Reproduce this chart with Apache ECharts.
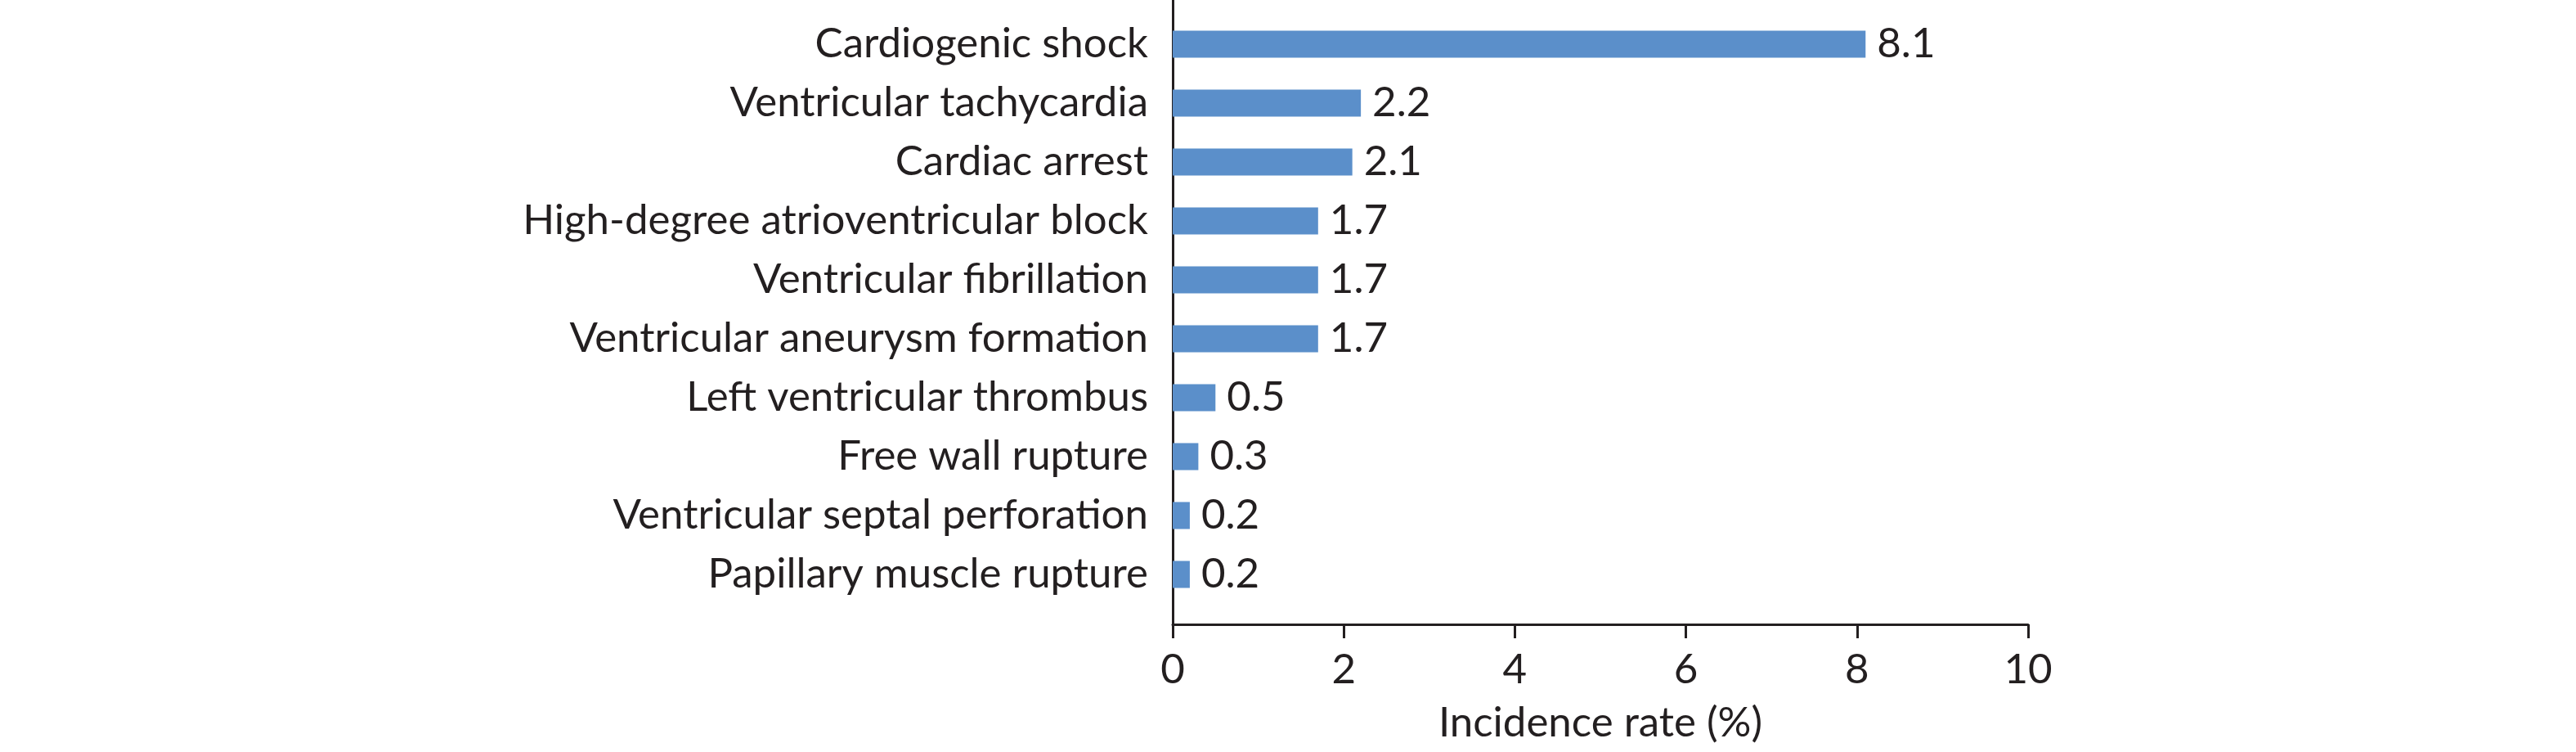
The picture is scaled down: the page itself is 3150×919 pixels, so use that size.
<!DOCTYPE html>
<html lang="en" style="height: 100%">

<head>
  <meta charset="utf-8" />
</head>

<body style="height: 100%; margin: 0; background: #ffffff">
  <div id="container" style="width: 3150px; height: 919px;"></div>

  <script type="text/javascript" src="https://cdn.jsdelivr.net/npm/echarts@6/dist/echarts.min.js"></script>

  <script type="text/javascript">
    // complications, top to bottom as in the figure
    var categories = [
      'Cardiogenic shock',
      'Ventricular tachycardia',
      'Cardiac arrest',
      'High-degree atrioventricular block',
      'Ventricular fibrillation',
      'Ventricular aneurysm formation',
      'Left ventricular thrombus',
      'Free wall rupture',
      'Ventricular septal perforation',
      'Papillary muscle rupture'
    ];
    // incidence rate (%)
    var rates = [8.1, 2.2, 2.1, 1.7, 1.7, 1.7, 0.5, 0.3, 0.2, 0.2];
    var xMin = 0;
    var xMax = 10;
    var xStep = 2;

    var textColor = '#231f20';
    var font = 'Lato';
    var fontSize = 51;

    var dom = document.getElementById('container');
    var myChart = echarts.init(dom, null, { renderer: 'canvas' });

    var option = {
      animation: false,
      backgroundColor: '#ffffff',
      // grid 0 holds the bars, grid 1 only draws the axis frame
      grid: [
        { left: 1434, width: 1046, top: 18, height: 720 },
        { left: 1434, width: 1046, top: 0, height: 763 }
      ],
      xAxis: [
        { gridIndex: 0, type: 'value', min: xMin, max: xMax, show: false },
        {
          gridIndex: 1,
          type: 'value',
          min: xMin,
          max: xMax,
          interval: xStep,
          axisLine: { show: true, lineStyle: { color: textColor, width: 3 } },
          axisTick: { show: true, length: 17, lineStyle: { color: textColor, width: 3 } },
          splitLine: { show: false },
          axisLabel: {
            fontFamily: font,
            fontSize: fontSize,
            color: textColor,
            margin: 56,
            verticalAlign: 'middle'
          },
          name: 'Incidence rate (%)',
          nameLocation: 'middle',
          nameGap: 121,
          nameTextStyle: {
            fontFamily: font,
            fontSize: fontSize,
            color: textColor,
            verticalAlign: 'middle'
          }
        }
      ],
      yAxis: [
        {
          gridIndex: 0,
          type: 'category',
          data: categories,
          inverse: true,
          axisLine: { show: false },
          axisTick: { show: false },
          axisLabel: {
            fontFamily: font,
            fontSize: fontSize,
            color: textColor,
            margin: 30
          }
        },
        {
          gridIndex: 1,
          type: 'value',
          axisLine: { show: true, lineStyle: { color: textColor, width: 3 } },
          axisTick: { show: false },
          axisLabel: { show: false },
          splitLine: { show: false }
        }
      ],
      series: [
        {
          type: 'bar',
          xAxisIndex: 0,
          yAxisIndex: 0,
          data: rates,
          barWidth: 33,
          itemStyle: { color: '#5b8fca' },
          label: {
            show: true,
            position: 'right',
            distance: 14,
            fontFamily: font,
            fontSize: fontSize,
            color: textColor
          }
        }
      ]
    };

    myChart.setOption(option);
    window.addEventListener('resize', myChart.resize);
  </script>
</body>

</html>
